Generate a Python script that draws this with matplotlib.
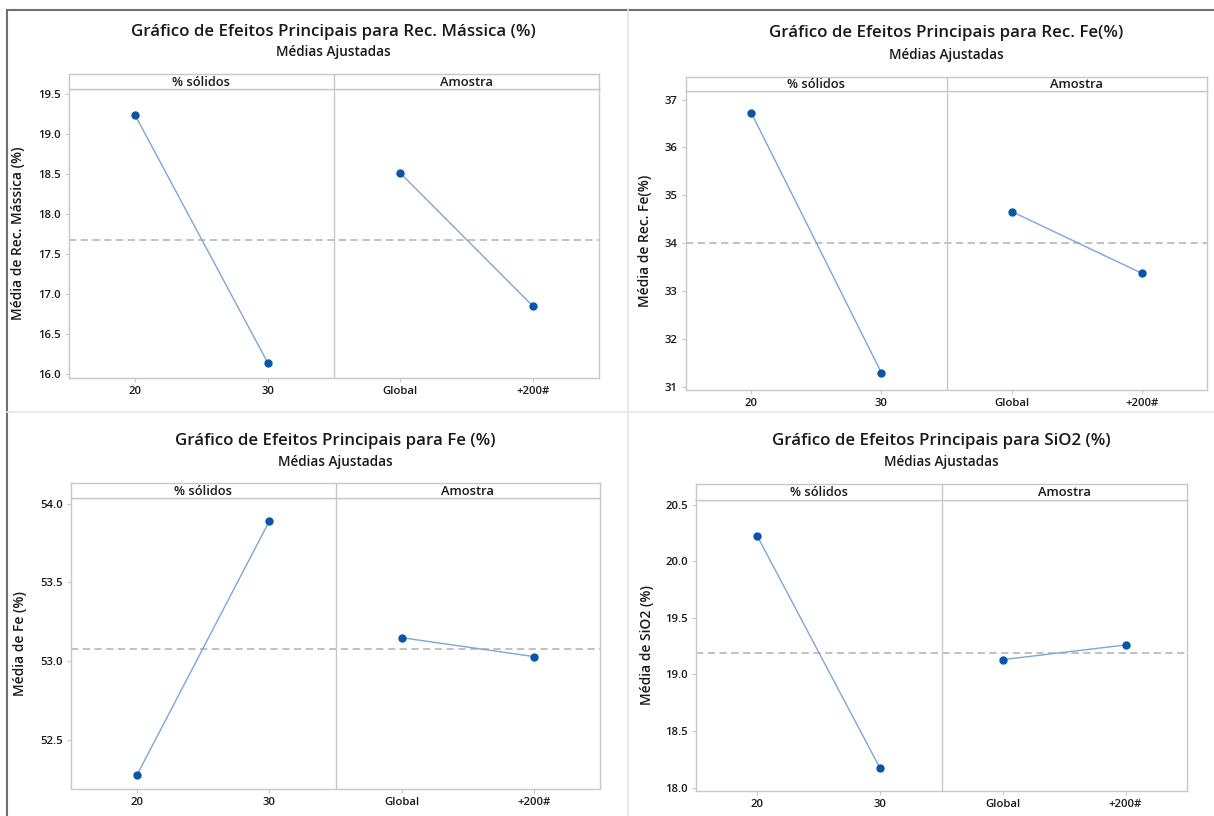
import matplotlib
matplotlib.use('Agg')
import matplotlib.pyplot as plt
from matplotlib.lines import Line2D

plt.rcParams['font.family'] = ['Open Sans', 'DejaVu Sans']

W, H = 1214, 816

# dados
fatores = ['% sólidos', 'Amostra']
niveis_solidos = ['20', '30']
niveis_amostra = ['Global', '+200#']

titulos = ['Gráfico de Efeitos Principais para Rec. Mássica (%)',
           'Gráfico de Efeitos Principais para Rec. Fe(%)',
           'Gráfico de Efeitos Principais para Fe (%)',
           'Gráfico de Efeitos Principais para SiO2 (%)']
rotulos_y = ['Média de Rec. Mássica (%)', 'Média de Rec. Fe(%)',
             'Média de Fe (%)', 'Média de SiO2 (%)']

media_solidos = [[19.23, 16.14], [36.73, 31.29], [52.28, 53.89], [20.22, 18.17]]
media_amostra = [[18.51, 16.85], [34.66, 33.37], [53.15, 53.03], [19.13, 19.26]]
media_geral = [17.68, 34.01, 53.08, 19.19]

ticks_y = [[16.0, 16.5, 17.0, 17.5, 18.0, 18.5, 19.0, 19.5],
           [31, 32, 33, 34, 35, 36, 37],
           [52.5, 53.0, 53.5, 54.0],
           [18.0, 18.5, 19.0, 19.5, 20.0, 20.5]]
formato_y = ['{:.1f}', '{:.0f}', '{:.1f}', '{:.1f}']
lim_y = [(15.95, 19.56), (30.93, 37.18), (52.19, 54.036), (17.97, 20.54)]

# posições em pixels: esquerda, direita, topo da faixa, base da faixa, base do eixo
caixas = [(69, 599, 74, 89, 378),
          (686, 1207, 77, 91, 390),
          (71, 600, 483, 498, 789),
          (696, 1187, 484, 500, 791)]
pos_titulo = [(333, 32, 52, 25), (946, 33, 55, 652), (335, 441, 462, 27), (941, 441, 462, 654)]

cor_ponto = '#0a55a8'
cor_linha = '#7ea6d6'
cor_borda = '#c8c8c8'
cor_texto = '#1a1a1a'

fig = plt.figure(figsize=(W / 100, H / 100), dpi=100)


def fx(x):
    return x / W


def fy(y):
    return 1 - y / H


# molduras dos quatro painéis
fig.add_artist(Line2D([fx(7), fx(W)], [fy(10), fy(10)], color='#707070', lw=1.5))
fig.add_artist(Line2D([fx(7), fx(7)], [fy(10), fy(H)], color='#707070', lw=1.5))
fig.add_artist(Line2D([fx(628), fx(628)], [fy(10), fy(H)], color='#e6e6e6', lw=1.2))
fig.add_artist(Line2D([fx(7), fx(W)], [fy(412), fy(412)], color='#e6e6e6', lw=1.2))

for i in range(4):
    x0, x1, yt, ys, yb = caixas[i]
    ax = fig.add_axes([fx(x0), fy(yb), fx(x1) - fx(x0), fy(ys) - fy(yb)])
    st = fig.add_axes([fx(x0), fy(ys), fx(x1) - fx(x0), fy(yt) - fy(ys)])

    xs = [0, 1]
    xa = [2, 3]
    ax.plot(xs, media_solidos[i], color=cor_linha, lw=1.0, zorder=2)
    ax.plot(xa, media_amostra[i], color=cor_linha, lw=1.0, zorder=2)
    ax.plot(xs + xa, media_solidos[i] + media_amostra[i], 'o', color=cor_ponto,
            ms=5, ls='none', zorder=3)
    ax.axhline(media_geral[i], color='#bcbcbc', lw=1.3, ls=(0, (4, 2.5)), zorder=1)
    ax.axvline(1.5, color=cor_borda, lw=1.0, zorder=1)

    ax.set_xlim(-0.5, 3.5)
    ax.set_ylim(*lim_y[i])
    ax.set_xticks([0, 1, 2, 3])
    ax.set_xticklabels(niveis_solidos + niveis_amostra, fontweight='semibold')
    ax.set_yticks(ticks_y[i])
    ax.set_yticklabels([formato_y[i].format(v) for v in ticks_y[i]], fontweight='semibold')
    ax.tick_params(axis='both', length=3, width=0.8, color=cor_borda,
                   labelsize=8.2, labelcolor=cor_texto, pad=3)
    for s in ax.spines.values():
        s.set_color(cor_borda)
        s.set_linewidth(1.0)
    ax.set_ylabel(rotulos_y[i], fontsize=10, fontweight='semibold', color=cor_texto)
    ax.yaxis.set_label_coords((pos_titulo[i][3] - x0) / (x1 - x0), 0.5)

    st.set_xlim(-0.5, 3.5)
    st.set_ylim(0, 1)
    st.set_xticks([])
    st.set_yticks([])
    for s in st.spines.values():
        s.set_color(cor_borda)
        s.set_linewidth(1.0)
    st.axvline(1.5, color=cor_borda, lw=1.0)
    st.text(0.5, 0.45, fatores[0], ha='center', va='center', fontsize=9.3,
            fontweight='semibold', color=cor_texto)
    st.text(2.5, 0.45, fatores[1], ha='center', va='center', fontsize=9.3,
            fontweight='semibold', color=cor_texto)

    cx, ty, sy, _ = pos_titulo[i]
    fig.text(fx(cx), fy(ty), titulos[i], ha='center', va='center', fontsize=12.2,
             fontweight='semibold', color=cor_texto)
    fig.text(fx(cx), fy(sy), 'Médias Ajustadas', ha='center', va='center',
             fontsize=9.8, fontweight='semibold', color=cor_texto)

fig.savefig('out.png', dpi=100, facecolor='white')
